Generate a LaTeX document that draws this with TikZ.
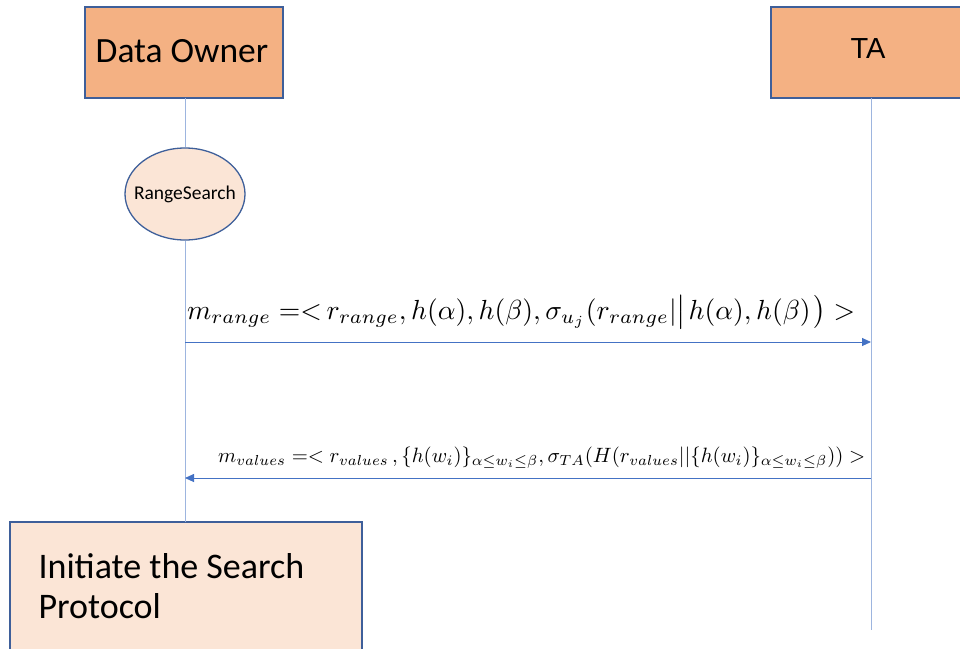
\documentclass[tikz,border=0pt]{standalone}
\usepackage{fontspec}
\setmainfont{Carlito}
\newfontfamily\arialfont{Liberation Sans}
\usepackage{amsmath}
\usetikzlibrary{arrows.meta,shapes.geometric}
\definecolor{actorfill}{HTML}{F4B183}
\definecolor{lightfill}{HTML}{FBE5D6}
\definecolor{edgeblue}{HTML}{3E5F9A}
\definecolor{lifeblue}{HTML}{9DB5DF}
\definecolor{msgblue}{HTML}{4472C4}
\tikzset{
  actor/.style={draw=edgeblue,line width=1.3pt,fill=actorfill},
  lifeline/.style={draw=lifeblue,line width=0.9pt},
  message/.style={draw=msgblue,line width=0.9pt,-{Triangle[length=9pt,width=8pt]}},
  activity/.style={ellipse,draw=edgeblue,line width=1.3pt,fill=lightfill,
    minimum width=120pt,minimum height=92pt,inner sep=0pt},
  note/.style={draw=edgeblue,line width=1.3pt,fill=lightfill},
}
\begin{document}
\begin{tikzpicture}[x=1pt,y=-1pt]
\useasboundingbox (0,0) rectangle (960,648);

% participant heads
\draw[actor] (85,7) rectangle (283,98);
\node[font=\fontsize{35.5}{40}\selectfont,anchor=base] (owner) at (182,62) {Data Owner};
\coordinate (ownerbot) at (185,98);
\draw[actor] (771,7) rectangle (965,98);
\node[font=\arialfont\fontsize{29}{34}\selectfont,anchor=base] (ta) at (868,58) {TA};
\coordinate (tabot) at (871,98);

% activity on the owner's lifeline
\node[activity] (range) at (185,194) {};
\node[font=\fontsize{19.5}{22}\selectfont] (rangetext) at (range.center) {RangeSearch};

% final box
\draw[note] (10,522) rectangle (362,660);
\node[anchor=base west,align=left,font=\fontsize{36}{40}\selectfont] (init) at (35,618)
  {Initiate the Search\\Protocol};
\coordinate (ownerend) at (185,522);
\coordinate (taend) at (871,630);

% lifelines
\draw[lifeline] (ownerbot) -- (range.north);
\draw[lifeline] (range.south) -- (ownerend);
\draw[lifeline] (tabot) -- (taend);

% messages
\coordinate (o1) at (185,342);
\coordinate (t1) at (871,342);
\coordinate (t2) at (871,478);
\coordinate (o2) at (185,478);
\draw[message] (o1) -- (t1);
\draw[message] (t2) -- (o2);

\node[anchor=base west,inner sep=0pt] (m1) at (187,319)
  {\resizebox{668pt}{!}{$m_{range}\;{=}{<}\,r_{range},h(\alpha),h(\beta),\sigma_{u_j}(r_{range}|\big|\kern1pt h(\alpha),h(\beta)\kern1pt\big)>$}};
\node[anchor=base west,inner sep=0pt] (m2) at (218,462)
  {\resizebox{647pt}{!}{$m_{values}=<r_{values}\,,\{h(w_i)\}_{\alpha\le w_i\le\beta},\sigma_{TA}(H(r_{values}||\{h(w_i)\}_{\alpha\le w_i\le\beta}))>$}};
\end{tikzpicture}
\end{document}
